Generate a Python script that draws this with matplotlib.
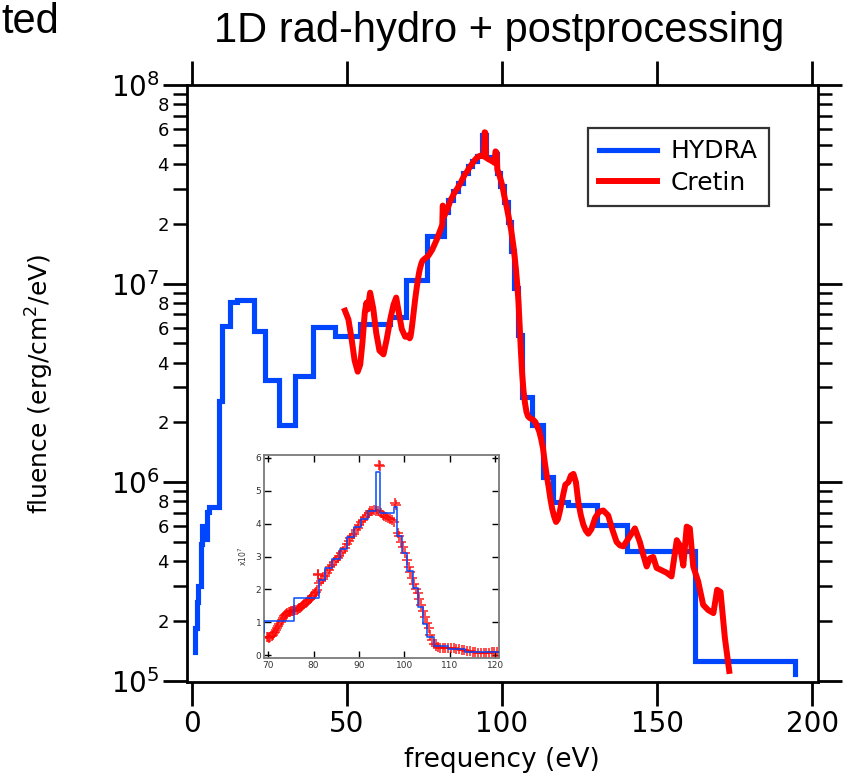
import matplotlib
matplotlib.use('Agg')
import matplotlib.pyplot as plt
from matplotlib.ticker import LogLocator, FixedLocator, FuncFormatter

# ---------------- data ----------------
# HYDRA: step histogram (left edge of each bin, value)
hydra_x = [1.1, 1.1, 1.6, 2.2, 2.9, 3.3, 3.8, 4.9, 5.7, 8.7,
           9.8, 12.2, 14.6, 20.1, 23.7, 28.0, 33.3, 39.2, 46.2, 54.3,
           63.9, 69.0, 75.8, 81.25, 82.6, 84.1, 85.8, 87.4, 89.0, 90.4,
           92.0, 93.7, 94.7, 97.6, 98.4, 99.4, 100.5, 101.9, 102.9, 104.0,
           105.0, 106.5, 109.6, 113.3, 116.5, 121.4, 130.5, 140.2, 162.2, 194.4]
hydra_y = [1.40e5, 1.85e5, 2.5e5, 3.0e5, 4.9e5, 6.0e5, 5.2e5, 7.1e5, 7.5e5, 2.55e6,
           6.1e6, 8.06e6, 8.3e6, 5.8e6, 3.25e6, 1.93e6, 3.44e6, 6.04e6, 5.45e6, 6.25e6,
           6.8e6, 1.04e7, 1.73e7, 2.29e7, 2.64e7, 2.93e7, 3.22e7, 3.59e7, 3.9e7, 4.15e7,
           4.38e7, 5.57e7, 4.32e7, 4.5e7, 3.61e7, 3.1e7, 2.57e7, 2.04e7, 1.46e7, 0.95e7,
           0.55e7, 2.69e6, 1.93e6, 1.06e6, 7.9e5, 7.7e5, 6.1e5, 4.5e5, 1.25e5, 1.08e5]

# Cretin: photon energy (eV) and fluence (erg/cm^2/eV)
cretin_x = [49.4, 50.5, 51.5, 52.5, 53.5, 54.3, 55.0, 55.8, 56.3, 56.7,
            57.5, 58.5, 59.5, 60.5, 61.8, 62.8, 64.0, 65.0, 65.9, 66.7,
            67.7, 68.8, 69.8,
            70.00, 70.25, 70.50, 70.75, 71.00, 71.25, 71.50, 71.75, 72.00, 72.25,
            72.50, 72.75, 73.00, 73.25, 73.50, 73.75, 74.00, 74.25, 74.50, 74.75,
            75.00, 75.25, 75.50, 75.75, 76.00, 76.25, 76.50, 76.75, 77.00, 77.25,
            77.50, 77.75, 78.00, 78.25, 78.50, 78.75, 79.00, 79.25, 79.50, 79.75,
            80.00, 80.25, 80.50, 80.75, 80.90, 81.00, 81.30, 81.70, 82.10, 82.50,
            82.90, 83.30, 83.70, 84.10, 84.50, 84.90, 85.30, 85.70, 86.10, 86.50,
            86.90, 87.30, 87.70, 88.10, 88.50, 88.90, 89.30, 89.70, 90.10, 90.50,
            90.90, 91.30, 91.70, 92.10, 92.50, 92.90, 93.30, 93.70, 94.10, 94.40,
            94.60, 94.80, 95.20, 95.60, 96.00, 96.40, 96.80, 97.20, 97.60, 97.90,
            98.20, 98.50, 98.90, 99.30, 99.70, 100.10, 100.50, 100.90, 101.30, 101.70,
            102.10, 102.50, 102.90, 103.30, 103.70, 104.10, 104.50, 104.90, 105.30, 105.70,
            106.10, 106.50, 106.90, 107.40, 107.90, 108.40, 109.00, 109.60, 110.20, 110.80,
            111.40, 112.00, 112.60, 113.20, 113.80, 114.40, 115.00, 115.60, 116.20, 116.80,
            117.40, 118.00, 118.60, 119.20, 119.80, 120.40,
            121.4, 122.2, 123.0, 123.8, 124.6, 125.4, 126.2, 127.0, 127.8, 128.8,
            130.0, 131.3, 132.6, 134.2, 135.5, 136.9, 138.0, 139.1, 140.7, 142.8,
            144.4, 145.5, 146.6, 147.7, 148.7, 149.8, 151.4, 153.0, 154.6, 156.3,
            157.3, 158.4, 159.5, 160.5, 161.6, 163.2, 164.8, 166.4, 168.1, 169.3,
            170.4, 171.8, 173.2]
cretin_y = [7.3e6, 6.6e6, 5.3e6, 4.1e6, 3.6e6, 3.9e6, 5.0e6, 7.2e6, 8.0e6, 7.4e6,
            9.0e6, 7.5e6, 5.6e6, 4.6e6, 4.4e6, 5.2e6, 6.6e6, 7.8e6, 8.5e6, 7.2e6,
            5.9e6, 5.4e6, 5.4e6,
            0.55e7, 0.53e7, 0.54e7, 0.57e7, 0.61e7, 0.66e7, 0.71e7, 0.77e7, 0.83e7, 0.89e7,
            0.95e7, 1.01e7, 1.07e7, 1.13e7, 1.18e7, 1.22e7, 1.26e7, 1.29e7, 1.31e7, 1.32e7,
            1.33e7, 1.34e7, 1.35e7, 1.36e7, 1.37e7, 1.38e7, 1.40e7, 1.42e7, 1.44e7, 1.46e7,
            1.48e7, 1.51e7, 1.54e7, 1.57e7, 1.60e7, 1.64e7, 1.67e7, 1.71e7, 1.75e7, 1.79e7,
            1.83e7, 1.88e7, 1.93e7, 1.98e7, 2.47e7, 2.43e7, 2.18e7, 2.24e7, 2.32e7, 2.40e7,
            2.50e7, 2.60e7, 2.68e7, 2.75e7, 2.84e7, 2.90e7, 2.96e7, 3.03e7, 3.11e7, 3.18e7,
            3.27e7, 3.37e7, 3.47e7, 3.56e7, 3.62e7, 3.70e7, 3.80e7, 3.88e7, 3.96e7, 4.04e7,
            4.12e7, 4.20e7, 4.27e7, 4.32e7, 4.37e7, 4.40e7, 4.41e7, 4.40e7, 4.37e7, 5.78e7,
            5.76e7, 4.33e7, 4.27e7, 4.23e7, 4.20e7, 4.17e7, 4.13e7, 4.10e7, 4.05e7, 4.63e7,
            4.58e7, 3.73e7, 3.62e7, 3.45e7, 3.28e7, 3.10e7, 2.88e7, 2.68e7, 2.52e7, 2.34e7,
            2.17e7, 2.02e7, 1.88e7, 1.70e7, 1.53e7, 1.35e7, 1.17e7, 0.99e7, 0.81e7, 0.60e7,
            0.45e7, 0.35e7, 0.29e7, 0.25e7, 0.225e7, 0.214e7, 0.21e7, 0.208e7, 0.205e7, 0.20e7,
            0.19e7, 0.18e7, 0.165e7, 0.148e7, 0.125e7, 0.108e7, 0.095e7, 0.082e7, 0.073e7, 0.067e7,
            0.063e7, 0.065e7, 0.071e7, 0.079e7, 0.088e7, 0.097e7,
            1.0e6, 1.08e6, 1.1e6, 1.0e6, 7.9e5, 6.8e5, 6.1e5, 5.7e5, 5.5e5, 5.8e5,
            6.6e5, 7.1e5, 7.2e5, 6.8e5, 5.8e5, 5.0e5, 4.8e5, 4.75e5, 5.2e5, 5.85e5,
            5.0e5, 4.3e5, 3.76e5, 4.14e5, 4.2e5, 3.7e5, 3.6e5, 3.5e5, 3.35e5, 5.1e5,
            4.8e5, 3.8e5, 5.97e5, 5.85e5, 3.76e5, 3.16e5, 2.41e5, 2.27e5, 2.19e5, 2.87e5,
            2.8e5, 1.64e5, 1.12e5]

x_ticks = [0, 50, 100, 150, 200]
inset_x_ticks = [70, 80, 90, 100, 110, 120]
inset_y_ticks = [0, 1, 2, 3, 4, 5, 6]
inset_scale = 1e7

BLUE = '#0046ff'
RED = '#ff0000'

# ---------------- figure ----------------
W, H = 847, 774
fig = plt.figure(figsize=(W / 100, H / 100), dpi=100)
fig.patch.set_facecolor('white')


def px_axes(l, t, r, b):
    return fig.add_axes([l / W, 1 - b / H, (r - l) / W, (b - t) / H])


ax = px_axes(187, 85, 818, 682)
ax.step(hydra_x, hydra_y, where='post', color=BLUE, lw=3.7, label='HYDRA',
        solid_joinstyle='miter', zorder=2)
ax.plot(cretin_x, cretin_y, color=RED, lw=4.3, label='Cretin',
        solid_joinstyle='round', zorder=3)

ax.set_yscale('log')
ax.set_xlim(-1.5, 201.8)
ax.set_ylim(0.985e5, 1.0e8)
ax.xaxis.set_major_locator(FixedLocator(x_ticks))
ax.yaxis.set_major_locator(LogLocator(base=10))
ax.yaxis.set_minor_locator(LogLocator(base=10, subs=[2, 3, 4, 5, 6, 7, 8, 9]))


def minor_fmt(v, pos):
    import math
    if v <= 0:
        return ''
    d = round(v / 10 ** math.floor(math.log10(v) + 1e-9))
    return str(d) if d in (2, 4, 6, 8) else ''


ax.yaxis.set_minor_formatter(FuncFormatter(minor_fmt))
for s in ax.spines.values():
    s.set_linewidth(2.0)
    s.set_color('black')
ax.tick_params(which='major', direction='out', length=17, width=2.0,
               top=True, right=True, labelsize=20, pad=3)
ax.tick_params(which='minor', direction='out', length=10, width=1.8,
               top=False, right=True, labelsize=13, pad=3)
ax.tick_params(axis='x', which='minor', bottom=False, top=False)

leg = ax.legend(loc='upper left', bbox_to_anchor=(588 / W, 1 - 128 / H),
                bbox_transform=fig.transFigure, fontsize=18, frameon=True,
                fancybox=False, shadow=False, handlelength=2.3,
                handletextpad=0.55, labelspacing=0.3, borderpad=0.45,
                borderaxespad=0)
leg.get_frame().set_edgecolor('black')
leg.get_frame().set_linewidth(1.6)

fig.text(40 / W, 1 - 384 / H, 'fluence (erg/cm$^{2}$/eV)', rotation=90,
         ha='center', va='center', fontsize=18)
fig.text(502 / W, 1 - 760 / H, 'frequency (eV)', ha='center', va='center',
         fontsize=19)
title_fam = ['Liberation Sans Narrow', 'Liberation Sans', 'DejaVu Sans']
fig.text(499 / W, 1 - 31 / H, '1D rad-hydro + postprocessing', ha='center',
         va='center', fontsize=30, family=title_fam)
fig.text(1 / W, 1 - 22 / H, 'ted', ha='left', va='center', fontsize=30,
         family=title_fam)

# ---------------- inset ----------------
ins = px_axes(264, 455, 499, 658)
ins.set_facecolor('white')
ins.step(hydra_x, [y / inset_scale for y in hydra_y], where='post',
         color=BLUE, lw=1.2, alpha=0.9, zorder=3)
ins.plot(cretin_x, [y / inset_scale for y in cretin_y], linestyle='none',
         marker='+', markersize=7, markeredgewidth=1.4, color=RED, alpha=0.7,
         zorder=2)
ins.set_xlim(69.1, 120.8)
ins.set_ylim(-0.09, 6.09)
ins.xaxis.set_major_locator(FixedLocator(inset_x_ticks))
ins.yaxis.set_major_locator(FixedLocator(inset_y_ticks))
for s in ins.spines.values():
    s.set_linewidth(1.3)
    s.set_color('#7a7a7a')
ins.tick_params(which='major', direction='in', length=5, width=1.0,
                top=True, right=True, labelsize=6.5, labelcolor='#333333',
                pad=2, color='black')
ins.set_ylabel('x10$^{7}$', fontsize=5.5, color='#333333', labelpad=5)

fig.savefig('out.png', dpi=100, facecolor='white')
